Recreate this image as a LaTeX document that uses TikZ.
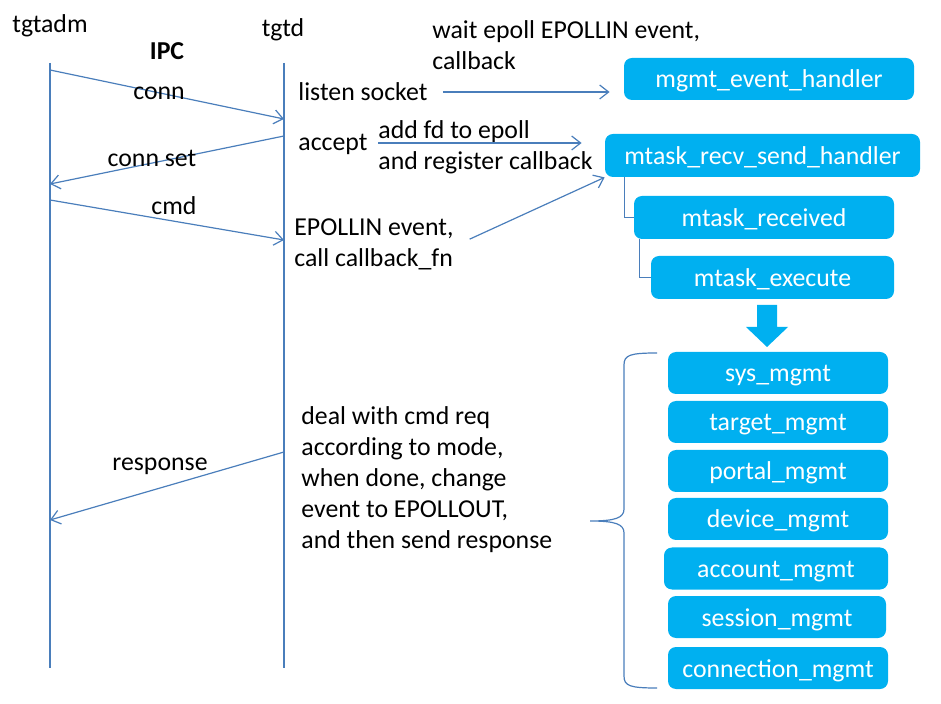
\documentclass[tikz,border=0pt]{standalone}
\usepackage{fontspec}
\setmainfont{Carlito}
\usetikzlibrary{arrows.meta}
\definecolor{cbox}{HTML}{00B0F0}
\definecolor{cline}{HTML}{4A7EBB}

\begin{document}
\begin{tikzpicture}[x=0.5pt,y=-0.5pt,
  txt/.style={inner sep=0pt,font=\fontsize{12.9}{15.5}\selectfont,align=left},
  mbox/.style={fill=cbox,rounded corners=4pt,minimum height=21pt,inner sep=0pt,
    text height=12pt,text depth=3pt,text=white,font=\fontsize{12.9}{15.5}\selectfont},
  life/.style={cline,line width=0.6pt},
  msg/.style={cline,line width=0.6pt,-{Straight Barb[length=4.5pt,width=7pt]}},
  link/.style={cline,line width=0.6pt}]
  \useasboundingbox (0,0) rectangle (941,704);
  % lifelines
  \node[txt] (adm) at (50,26) {tgtadm};
  \node[txt] (tgtd) at (283,30) {tgtd};
  \node[txt,font=\fontsize{12.9}{15.5}\selectfont\bfseries] (ipc) at (167,51) {IPC};
  \coordinate (admtop) at (50,63);
  \coordinate (admbot) at (50,668);
  \coordinate (tgtdtop) at (284,63);
  \coordinate (tgtdbot) at (284,668);
  \draw[life] (admtop) -- (admbot);
  \draw[life] (tgtdtop) -- (tgtdbot);
  % messages
  \coordinate (c1) at (50,70);   \coordinate (c2) at (284,119);
  \coordinate (s1) at (284,136); \coordinate (s2) at (50,184);
  \coordinate (m1) at (50,200);  \coordinate (m2) at (284,240);
  \coordinate (r1) at (284,452); \coordinate (r2) at (50,520);
  \draw[msg] (c1) -- (c2);
  \draw[msg] (s1) -- (s2);
  \draw[msg] (m1) -- (m2);
  \draw[msg] (r1) -- (r2);
  \node[txt] (conn) at (159,93) {conn};
  \node[txt] (connset) at (152,158) {conn set};
  \node[txt] (cmd) at (174,206) {cmd};
  \node[txt] (resp) at (160,466) {response};
  % tgtd side notes
  \node[txt,anchor=west] (listen) at (298,92) {listen socket};
  \node[txt,anchor=west] (wait) at (432,45) {wait epoll EPOLLIN event,\\callback};
  \node[txt,anchor=west] (accept) at (298,144) {accept};
  \node[txt,anchor=west] (addfd) at (378,147.5) {add fd to epoll\\and register callback};
  \node[txt,anchor=west] (epin) at (294,244) {EPOLLIN event,\\call callback\_fn};
  \node[txt,anchor=west] (deal) at (301,479.5) {deal with cmd req\\according to mode,\\when done, change\\event to EPOLLOUT,\\and then send response};
  % handlers
  \node[mbox,minimum width=145pt] (evh) at (769,79) {mgmt\_event\_handler};
  \node[mbox,minimum width=157.5pt,minimum height=21.5pt] (rsh) at (762.5,155.5) {mtask\_recv\_send\_handler};
  \node[mbox,minimum width=130pt,minimum height=21.5pt] (rcv) at (764,217.5) {mtask\_received};
  \node[mbox,minimum width=121.5pt,minimum height=21.5pt] (exe) at (772.5,277.5) {mtask\_execute};
  \draw[msg,shorten <=7.5pt,shorten >=7pt] (listen.east) -- (listen.east -| evh.west);
  \draw[msg,shorten >=11.5pt] ([yshift=2.25pt]addfd.west) -- ([yshift=2.25pt]addfd.west -| rsh.west);
  \draw[msg,shorten <=1pt] ([xshift=7pt,yshift=2pt]epin.east) -- (rsh.south west);
  \draw[link] ([xshift=10pt]rsh.south west) |- (rcv.west);
  \draw[link] ([xshift=3pt]rcv.south west) |- (exe.west);
  % block arrow
  \fill[cbox] (757,305) -- (777,305) -- (777,327) -- (788,327) -- (767,347)
    -- (746,327) -- (757,327) -- cycle;
  % mgmt modules
  \node[mbox,minimum width=110pt] (sys) at (778,373) {sys\_mgmt};
  \node[mbox,minimum width=110pt] (target) at (778,422) {target\_mgmt};
  \node[mbox,minimum width=110pt] (portal) at (778,471) {portal\_mgmt};
  \node[mbox,minimum width=110pt] (device) at (778,519) {device\_mgmt};
  \node[mbox,minimum width=112pt] (account) at (776,568.5) {account\_mgmt};
  \node[mbox,minimum width=109pt] (session) at (777,617) {session\_mgmt};
  \node[mbox,minimum width=110pt] (connection) at (778,668) {connection\_mgmt};
  % brace
  \draw[link] (657,353) .. controls (630,353) and (624,355) .. (624,365) -- (624,509)
    .. controls (624,518) and (615,521) .. (590,521)
    .. controls (615,521) and (624,524) .. (624,533) -- (624,676)
    .. controls (624,686) and (630,688) .. (657,688);
\end{tikzpicture}
\end{document}
